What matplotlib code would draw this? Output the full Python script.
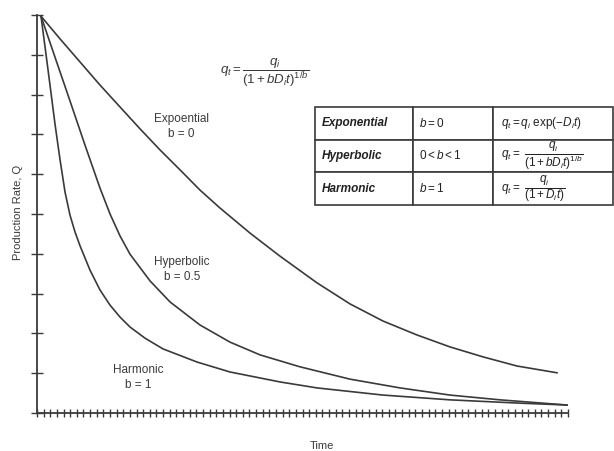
import matplotlib
matplotlib.use("Agg")
import matplotlib.pyplot as plt

plt.rcParams['font.family'] = ['Liberation Sans', 'DejaVu Sans']
plt.rcParams['mathtext.fontset'] = 'custom'
plt.rcParams['mathtext.rm'] = 'Liberation Sans'
plt.rcParams['mathtext.it'] = 'Liberation Sans:italic'
plt.rcParams['mathtext.bf'] = 'Liberation Sans:bold'

ink = "#3a3a3a"

# decline curves (time, rate)
exp_t = [0.60, 3.47, 6.48, 9.49, 12.50, 15.52, 18.53, 21.54, 24.56, 27.57, 32.09, 36.61,
         42.18, 47.16, 52.13, 57.25, 62.22, 67.19, 72.32, 78.34]
exp_q = [9.97, 9.40, 8.82, 8.24, 7.69, 7.14, 6.61, 6.11, 5.60, 5.15, 4.52, 3.94,
         3.27, 2.74, 2.31, 1.96, 1.66, 1.41, 1.18, 1.01]

hyp_t = [0.60, 2.71, 4.97, 7.23, 9.49, 11.00, 12.50, 14.01, 17.02, 20.04, 24.56, 29.08,
         33.60, 39.62, 47.16, 54.69, 62.22, 69.75, 79.85]
hyp_q = [9.97, 8.94, 7.84, 6.73, 5.65, 5.00, 4.45, 3.99, 3.32, 2.79, 2.21, 1.78,
         1.46, 1.16, 0.85, 0.63, 0.45, 0.33, 0.20]

har_t = [0.60, 1.66, 2.71, 3.47, 4.22, 4.97, 5.72, 6.48, 7.98, 9.49, 11.00, 12.50, 14.01,
         16.27, 18.98, 24.11, 29.08, 36.61, 42.18, 52.13, 62.22, 72.32, 79.85]
har_q = [9.97, 8.62, 7.26, 6.36, 5.55, 4.97, 4.55, 4.20, 3.59, 3.09, 2.71, 2.41, 2.16,
         1.88, 1.61, 1.28, 1.03, 0.78, 0.63, 0.45, 0.33, 0.25, 0.20]

row_names = ["Exponential", "Hyperbolic", "Harmonic"]
row_b = [r"$b = 0$", r"$0 < b < 1$", r"$b = 1$"]
row_eq = [r"$q_t = q_i\ \mathrm{exp}(-D_it)$",
          r"$q_t =\ \dfrac{q_i}{(1 + bD_it)^{1/b}}$",
          r"$q_t =\ \dfrac{q_i}{(1 + D_it)}$"]

fig = plt.figure(figsize=(6.14, 4.51), dpi=100)
ax = fig.add_axes([0.0603, 0.0843, 0.8648, 0.8824])

for t, q in [(exp_t, exp_q), (hyp_t, hyp_q), (har_t, har_q)]:
    ax.plot(t, q, color=ink, lw=1.2, solid_joinstyle='round')

ax.set_xlim(0, 80)
ax.set_ylim(0, 10)
ax.set_xticks(range(0, 81))
ax.set_yticks(range(0, 11))
ax.set_xticklabels([])
ax.set_yticklabels([])
ax.tick_params(axis='x', direction='inout', length=6, width=1, color=ink)
ax.tick_params(axis='y', direction='inout', length=8, width=1, color=ink)
for s in ['top', 'right']:
    ax.spines[s].set_visible(False)
for s in ['left', 'bottom']:
    ax.spines[s].set_color(ink)
    ax.spines[s].set_linewidth(1.3)

fig.text(0.524, 0.011, "Time", fontsize=8, color=ink, ha='center', va='center')
fig.text(0.030, 0.528, "Production Rate, Q", fontsize=8, color=ink, ha='center', va='center', rotation=90)

ax.text(21.8, 7.2, "Expoential\nb = 0", fontsize=8.5, color=ink, ha='center', va='center', linespacing=1.3)
ax.text(21.8, 3.6, "Hyperbolic\nb = 0.5", fontsize=8.5, color=ink, ha='center', va='center', linespacing=1.3)
ax.text(15.2, 0.9, "Harmonic\nb = 1", fontsize=8.5, color=ink, ha='center', va='center', linespacing=1.3)

ax.text(27.6, 8.55, r"$q_t = \dfrac{q_i}{(1 + bD_it)^{1/b}}$", fontsize=9.5, color=ink, ha='left', va='center')

cells = [[n, b, e] for n, b, e in zip(row_names, row_b, row_eq)]
tab = ax.table(cellText=cells, colWidths=[98, 80, 120],
               bbox=[0.5235, 0.5226, 0.5612, 0.2464], cellLoc='left')
tab.auto_set_font_size(False)
tab.set_fontsize(8.5)
for (r, c), cell in tab.get_celld().items():
    cell.set_edgecolor(ink)
    cell.set_linewidth(1.2)
    cell.PAD = 0.07
    txt = cell.get_text()
    txt.set_color("#222222")
    if c == 0:
        txt.set_fontweight('bold')
        txt.set_fontstyle('italic')
        txt.set_fontsize(8.5)
tab.set_clip_on(False)

fig.savefig("out.png", dpi=100)
